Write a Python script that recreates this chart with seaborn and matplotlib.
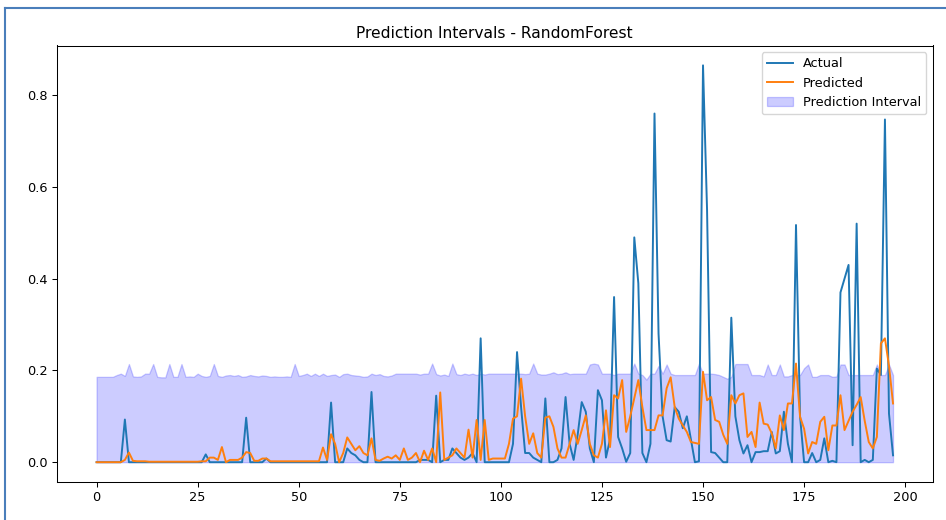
import numpy as np
import pandas as pd
import matplotlib
matplotlib.use("Agg")
import matplotlib.pyplot as plt
import seaborn as sns
from matplotlib.lines import Line2D

# ---- data ----
actual = [
    0, 0, 0, 0, 0, 0, 0, 0.093, 0, 0,                      # 0-9
    0, 0, 0, 0, 0, 0, 0, 0, 0, 0,                          # 10-19
    0, 0, 0, 0, 0, 0, 0, 0.017, 0, 0,                      # 20-29
    0, 0, 0, 0, 0, 0, 0, 0.097, 0, 0,                      # 30-39
    0, 0, 0.008, 0, 0, 0, 0, 0, 0, 0,                      # 40-49
    0, 0, 0, 0, 0, 0, 0, 0, 0.130, 0,                      # 50-59
    0, 0, 0.030, 0.020, 0.015, 0.005, 0, 0, 0.153, 0,      # 60-69
    0, 0, 0, 0, 0, 0, 0, 0, 0, 0,                          # 70-79
    0.005, 0.005, 0.005, 0, 0.145, 0, 0.005, 0.005, 0.030, 0.020,  # 80-89
    0.010, 0.005, 0.010, 0.020, 0, 0.270, 0, 0, 0, 0,      # 90-99
    0, 0, 0, 0.040, 0.240, 0.120, 0.020, 0.020, 0.010, 0.005,  # 100-109
    0, 0.139, 0, 0, 0.005, 0.030, 0.142, 0.040, 0.005, 0.060,  # 110-119
    0.131, 0.110, 0.030, 0, 0.157, 0.135, 0.010, 0.050, 0.360, 0.055,  # 120-129
    0.030, 0.001, 0.020, 0.490, 0.390, 0.020, 0, 0.040, 0.760, 0.280,  # 130-139
    0.100, 0.048, 0.045, 0.120, 0.110, 0.074, 0.100, 0.050, 0, 0.002,  # 140-149
    0.865, 0.550, 0.022, 0.020, 0.010, 0, 0, 0.315, 0.100, 0.048,  # 150-159
    0.019, 0.037, 0, 0.022, 0.022, 0.024, 0.024, 0.066, 0.019, 0.024,  # 160-169
    0.110, 0.040, 0, 0.517, 0.100, 0, 0, 0.020, 0, 0.005,  # 170-179
    0.052, 0, 0.003, 0, 0.370, 0.400, 0.430, 0.037, 0.520, 0,  # 180-189
    0.005, 0, 0.005, 0.204, 0.190, 0.747, 0.106, 0.015,   # 190-197
]

predicted = [
    0, 0, 0, 0, 0, 0, 0, 0.005, 0.021, 0.003,
    0.002, 0.002, 0.002, 0.001, 0.001, 0.001, 0.001, 0.001, 0.001, 0.001,
    0.001, 0.001, 0.001, 0.001, 0.001, 0.001, 0.002, 0.002, 0.010, 0.010,
    0.005, 0.033, 0.000, 0.005, 0.005, 0.005, 0.010, 0.022, 0.020, 0.003,
    0.003, 0.008, 0.008, 0.002, 0.002, 0.002, 0.002, 0.002, 0.002, 0.002,
    0.002, 0.002, 0.002, 0.002, 0.002, 0.002, 0.032, 0.005, 0.061, 0.040,
    0.000, 0.020, 0.054, 0.040, 0.026, 0.035, 0.020, 0.015, 0.052, 0.005,
    0.003, 0.008, 0.012, 0.008, 0.015, 0.005, 0.030, 0.005, 0.010, 0.020,
    0.000, 0.025, 0.005, 0.030, 0.000, 0.152, 0.005, 0.010, 0.015, 0.030,
    0.020, 0.010, 0.071, 0.010, 0.092, 0.005, 0.092, 0.005, 0.008, 0.008,
    0.008, 0.008, 0.040, 0.095, 0.100, 0.182, 0.100, 0.040, 0.063, 0.020,
    0.010, 0.097, 0.100, 0.077, 0.030, 0.010, 0.010, 0.040, 0.070, 0.040,
    0.070, 0.102, 0.040, 0.015, 0.010, 0.040, 0.113, 0.033, 0.146, 0.139,
    0.179, 0.066, 0.100, 0.140, 0.179, 0.120, 0.070, 0.070, 0.070, 0.102,
    0.102, 0.161, 0.185, 0.120, 0.095, 0.080, 0.066, 0.044, 0.042, 0.040,
    0.197, 0.135, 0.142, 0.092, 0.088, 0.060, 0.040, 0.146, 0.128, 0.146,
    0.150, 0.055, 0.066, 0.033, 0.130, 0.084, 0.082, 0.063, 0.030, 0.102,
    0.070, 0.128, 0.128, 0.215, 0.099, 0.073, 0.019, 0.044, 0.040, 0.088,
    0.099, 0.026, 0.080, 0.080, 0.146, 0.070, 0.090, 0.110, 0.125, 0.142,
    0.090, 0.044, 0.030, 0.055, 0.259, 0.270, 0.210, 0.128,
]

upper = [
    0.186, 0.186, 0.186, 0.186, 0.186, 0.190, 0.193, 0.188, 0.214, 0.187,
    0.186, 0.187, 0.193, 0.193, 0.214, 0.186, 0.185, 0.185, 0.214, 0.186,
    0.186, 0.214, 0.186, 0.187, 0.186, 0.193, 0.188, 0.186, 0.188, 0.214,
    0.188, 0.186, 0.189, 0.190, 0.188, 0.190, 0.186, 0.187, 0.190, 0.188,
    0.187, 0.189, 0.188, 0.186, 0.187, 0.186, 0.186, 0.187, 0.186, 0.214,
    0.188, 0.190, 0.193, 0.188, 0.193, 0.188, 0.193, 0.188, 0.190, 0.191,
    0.186, 0.192, 0.193, 0.190, 0.189, 0.188, 0.186, 0.187, 0.193, 0.190,
    0.192, 0.188, 0.187, 0.189, 0.193, 0.193, 0.193, 0.193, 0.193, 0.193,
    0.191, 0.193, 0.193, 0.215, 0.192, 0.189, 0.191, 0.188, 0.215, 0.192,
    0.190, 0.193, 0.191, 0.193, 0.190, 0.193, 0.191, 0.193, 0.193, 0.193,
    0.193, 0.193, 0.193, 0.193, 0.193, 0.193, 0.192, 0.193, 0.215, 0.193,
    0.191, 0.191, 0.193, 0.196, 0.192, 0.193, 0.196, 0.192, 0.193, 0.193,
    0.193, 0.193, 0.213, 0.215, 0.213, 0.193, 0.193, 0.193, 0.190, 0.193,
    0.193, 0.193, 0.193, 0.215, 0.193, 0.190, 0.180, 0.193, 0.193, 0.210,
    0.193, 0.213, 0.193, 0.190, 0.190, 0.190, 0.190, 0.190, 0.190, 0.215,
    0.193, 0.193, 0.193, 0.192, 0.190, 0.186, 0.182, 0.186, 0.214, 0.214,
    0.214, 0.214, 0.190, 0.190, 0.190, 0.187, 0.213, 0.190, 0.190, 0.213,
    0.187, 0.187, 0.190, 0.190, 0.190, 0.205, 0.213, 0.186, 0.186, 0.190,
    0.190, 0.190, 0.186, 0.187, 0.213, 0.213, 0.190, 0.190, 0.190, 0.190,
    0.190, 0.190, 0.190, 0.213, 0.190, 0.190, 0.213, 0.190,
]

lower = [0.0] * len(upper)

idx = list(range(len(actual)))
df = pd.DataFrame({"idx": idx, "Actual": actual, "Predicted": predicted,
                   "lower": lower, "upper": upper})

# ---- figure ----
S = 0.93  # the reference appears rendered ~7% smaller than default
fig = plt.figure(figsize=(9.46, 5.2), dpi=100)
ax = fig.add_axes([0.0600, 0.073, 0.9261, 0.8395])

sns.lineplot(data=df, x="idx", y="Actual", ax=ax, color="#1f77b4",
             label="Actual", linewidth=1.5 * S)
sns.lineplot(data=df, x="idx", y="Predicted", ax=ax, color="#ff7f0e",
             label="Predicted", linewidth=1.5 * S)
ax.fill_between(df["idx"], df["lower"], df["upper"], color="blue", alpha=0.2,
                label="Prediction Interval", linewidth=1.0 * S)

ax.set_title("Prediction Intervals - RandomForest", fontsize=12 * S, pad=6 * S)
ax.set_xlabel("")
ax.set_ylabel("")
ax.set_xticks([0, 25, 50, 75, 100, 125, 150, 175, 200])
ax.set_yticks([0.0, 0.2, 0.4, 0.6, 0.8])
ax.tick_params(labelsize=10 * S, length=3.5 * S, width=0.8 * S, pad=3.5 * S)
for sp in ax.spines.values():
    sp.set_linewidth(0.8 * S)
ax.legend(loc="upper right", fontsize=10 * S)

# notebook-style frame lines
fig.add_artist(Line2D([0.0055, 0.0055], [0.0, 0.985], transform=fig.transFigure,
                      color="#4a7ebb", linewidth=1.5))
fig.add_artist(Line2D([0.0055, 1.0], [0.985, 0.985], transform=fig.transFigure,
                      color="#4a7ebb", linewidth=1.5))

fig.savefig("out.png", dpi=100)
